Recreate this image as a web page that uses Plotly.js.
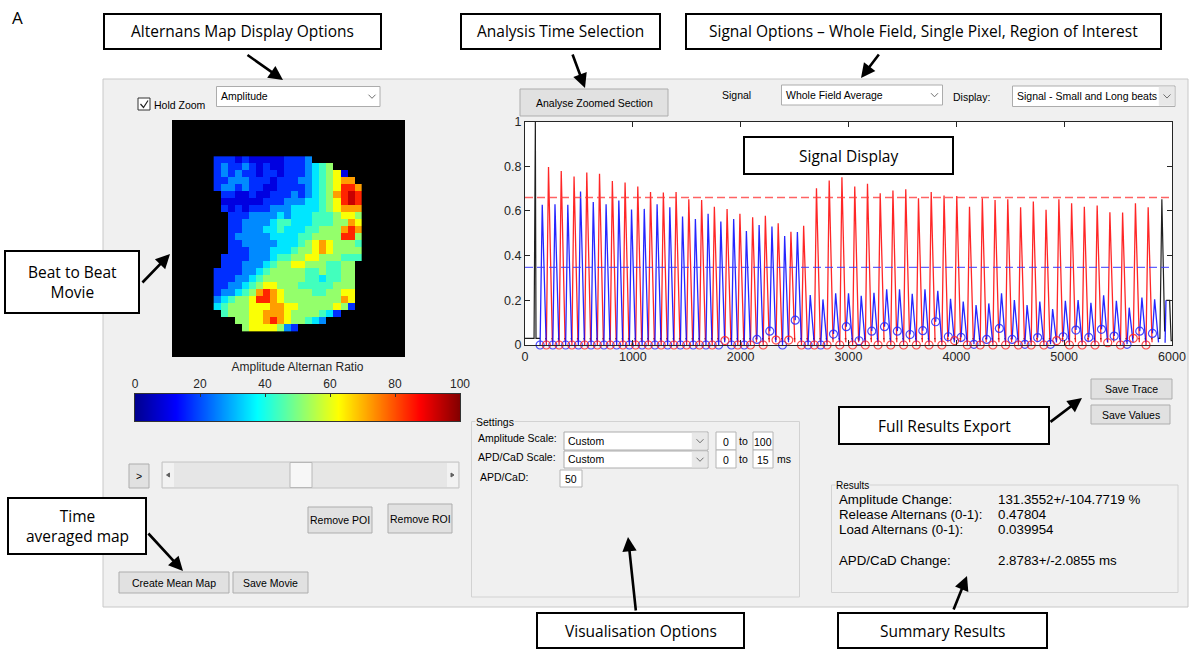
<!DOCTYPE html>
<html><head><meta charset="utf-8">
<script src="https://cdn.plot.ly/plotly-3.0.1.min.js"></script>
<style>html,body{margin:0;padding:0;background:#fff}#chart{width:1192px;height:650px}</style>
</head><body><div id="chart"></div>
<script>
// ---------------- DATA ----------------
var blueTimes = [160,278,397,515,633,752,870,988,1106,1225,1343,1461,1580,1698,1816,1935,2053,2171,2290,2408,2526,2645,2763,2881,3000,3118,3236,3354,3473,3591,3709,3828,3946,4064,4183,4301,4419,4538,4656,4774,4893,5011,5129,5248,5366,5484,5603,5721,5839];
var bluePeaks = [0.627,0.630,0.627,0.687,0.640,0.630,0.646,0.606,0.609,0.630,0.616,0.575,0.564,0.587,0.552,0.564,0.510,0.537,0.530,0.488,0.506,0.224,0.204,0.231,0.231,0.220,0.234,0.249,0.249,0.229,0.249,0.242,0.207,0.194,0.179,0.186,0.231,0.201,0.179,0.194,0.161,0.198,0.201,0.189,0.222,0.198,0.167,0.212,0.204];
var blueFeet = [0,0,0,0,0,0,0,0,0,0,0,0,0,0,0,0,0,0.025,0.062,0,0.111,0,0,0.049,0.082,0.019,0.062,0.082,0.062,0.047,0.064,0.104,0.037,0.034,0.003,0.025,0.074,0.025,0.003,0.033,0.003,0.037,0.067,0.034,0.070,0.040,0.003,0.062,0.052];
var redTimes = [218,336,455,573,691,810,928,1046,1164,1283,1401,1519,1638,1756,1874,1993,2111,2229,2348,2466,2584,2703,2821,2939,3058,3176,3294,3412,3531,3649,3767,3886,4004,4122,4241,4359,4477,4596,4714,4832,4951,5069,5187,5306,5424,5542,5661,5779];
var redPeaks = [0.796,0.779,0.754,0.772,0.766,0.734,0.727,0.709,0.685,0.682,0.685,0.652,0.649,0.619,0.608,0.587,0.572,0.578,0.545,0.507,0.533,0.701,0.736,0.751,0.709,0.721,0.679,0.691,0.697,0.657,0.684,0.669,0.667,0.619,0.657,0.649,0.652,0.616,0.642,0.605,0.652,0.634,0.619,0.624,0.594,0.593,0.634,0.616];
var redFeet = [0,0,0,0,0,0,0,0,0,0,0,0,0,0,0.02,0,0,0,0.022,0.022,0,0,0,0,0,0,0,0,0,0,0,0,0.02,0,0,0,0,0,0,0,0.02,0,0,0,0.01,0,0.03,0];
var startTimes = [0,84,96,102,140];
var startValues = [0.03,0.03,1.0,0.03,0.03];
var endTimes = [5870,5888,5906,5932];
var endValues = [0.03,0.03,0.652,0.06];
var tailBlueTimes = [5936,5944];
var tailBlueValues = [0.01,0.2];
var tailBlackTimes = [5946,5978,5992,6000];
var tailBlackValues = [0.2,0.2,0.02,0.02];
var longBeatLevel = 0.66;
var smallBeatLevel = 0.347;
var xRange = [0,6000];
var xTicks = [0,1000,2000,3000,4000,5000,6000];
var yTicks = [0,0.2,0.4,0.6,0.8,1];
var colorbarTicks = [0,20,40,60,80,100];
var colorbarRange = [0,100];
// alternans map, one digit per pixel (level index into mapLevels), '.' = outside tissue
var mapLevels = [9,17,26,35,44,52,62,72,84,93];
var mapRows = [
"11101000001112.......",
"12112101001112345....",
"1212110110111234560..",
"11222111011122345677.",
"122121100111123456887",
".11001001112123457898",
".00000011122233456898",
".10101112223333456777",
"..1112222323334445665",
"..1122223443334445576",
"..1122233433344555787",
"..1222223333445555885",
"..1122222333456765554",
"..1112223334556765555",
".11112223445566555444",
".1112223455665554455.",
"11112234555554454455.",
"11122345555554434455.",
"11223456655544444555.",
"12234578765555445566.",
"23455688765555555576.",
"34555666776655555651.",
".45556677765555431...",
"...5566787655432.....",
"....56666521........."
];
var resultLabels = ["Amplitude Change:","Release Alternans (0-1):","Load Alternans (0-1):","APD/CaD Change:"];
var resultValues = ["131.3552+/-104.7719 %","0.47804","0.039954","2.8783+/-2.0855 ms"];

// ---------------- BUILD ----------------
var RISE = 20, FALL = 36, BASE = 0.028;
function X(p){return p/1192;}
function Y(p){return 1-p/650;}

function beatLine(times, peaks, feet){
  var xs=[], ys=[];
  for (var i=0;i<times.length;i++){
    xs.push(times[i]-RISE, times[i], times[i]+FALL, null);
    ys.push(feet[i], peaks[i], 0.012, null);
  }
  return {x:xs,y:ys};
}
var blueL = beatLine(blueTimes, bluePeaks, blueFeet);
var redL = beatLine(redTimes, redPeaks, redFeet);

var allT = blueTimes.concat(redTimes).sort(function(a,b){return a-b;});
var bx = startTimes.slice(), by = startValues.slice();
bx.push(null); by.push(null);
for (var i=0;i<allT.length-1;i++){
  bx.push(allT[i]+26, allT[i+1]-RISE, null);
  by.push(BASE, BASE, null);
}
bx = bx.concat(endTimes); by = by.concat(endValues);
bx.push(null); by.push(null);
bx = bx.concat(tailBlackTimes); by = by.concat(tailBlackValues);

var z = mapRows.map(function(r){
  return r.split('').map(function(ch){ return ch==='.' ? null : mapLevels[+ch]; });
});

var jet = [[0,'#00008f'],[0.125,'#0000ff'],[0.375,'#00ffff'],[0.625,'#ffff00'],[0.875,'#ff0000'],[1,'#800000']];

var traces = [
  {type:'scatter',mode:'lines',x:bx,y:by,line:{color:'#202020',width:1.2},xaxis:'x',yaxis:'y',hoverinfo:'skip'},
  {type:'scatter',mode:'lines',x:redL.x,y:redL.y,line:{color:'rgba(255,0,0,0.85)',width:1.3},xaxis:'x',yaxis:'y',hoverinfo:'skip'},
  {type:'scatter',mode:'lines',x:blueL.x,y:blueL.y,line:{color:'rgba(0,0,255,0.85)',width:1.3},xaxis:'x',yaxis:'y',hoverinfo:'skip'},
  {type:'scatter',mode:'lines',x:tailBlueTimes,y:tailBlueValues,line:{color:'rgba(0,0,255,0.85)',width:1.3},xaxis:'x',yaxis:'y'},
  {type:'scatter',mode:'lines',x:xRange,y:[longBeatLevel,longBeatLevel],line:{color:'rgba(255,60,60,0.8)',width:1.3,dash:'8px,4px'},xaxis:'x',yaxis:'y'},
  {type:'scatter',mode:'lines',x:xRange,y:[smallBeatLevel,smallBeatLevel],line:{color:'rgba(60,60,255,0.8)',width:1.3,dash:'8px,4px'},xaxis:'x',yaxis:'y'},
  {type:'scatter',mode:'markers',x:blueTimes.map(function(t){return t-RISE;}),y:blueFeet,cliponaxis:false,
    marker:{symbol:'circle-open',size:8,color:'rgba(40,40,255,0.85)',line:{width:1.2}},xaxis:'x',yaxis:'y'},
  {type:'scatter',mode:'markers',x:redTimes.map(function(t){return t-RISE;}),y:redFeet,cliponaxis:false,
    marker:{symbol:'circle-open',size:8,color:'rgba(255,40,40,0.85)',line:{width:1.2}},xaxis:'x',yaxis:'y'},
  {type:'heatmap',z:z,colorscale:jet,zmin:colorbarRange[0],zmax:colorbarRange[1],showscale:false,xaxis:'x2',yaxis:'y2',hoverinfo:'skip'},
  {type:'heatmap',z:[colorbarRange,colorbarRange],x:colorbarRange,y:[0,1],zsmooth:'best',colorscale:jet,zmin:colorbarRange[0],zmax:colorbarRange[1],showscale:false,xaxis:'x3',yaxis:'y3',hoverinfo:'skip'}
];

var shapes = [], ann = [];
var FF = 'Liberation Sans, Arial, sans-serif';
function rect(x0,y0,x1,y1,fill,line,w,layer){
  shapes.push({type:'rect',xref:'paper',yref:'paper',x0:X(x0),x1:X(x1),y0:Y(y1),y1:Y(y0),
    fillcolor:fill,line:{color:line,width:(w===undefined?1:w)},layer:layer||'below'});
}
function path(pts,color,w,fill,layer){
  var d = pts.map(function(p,i){return (i?'L':'M')+X(p[0])+','+Y(p[1]);}).join(' ');
  if (fill) d += ' Z';
  shapes.push({type:'path',xref:'paper',yref:'paper',path:d,line:{color:color,width:w},fillcolor:fill||'rgba(0,0,0,0)',layer:layer||'below'});
}
function txt(x,y,t,size,anchor,opts){
  opts = opts||{};
  ann.push({xref:'paper',yref:'paper',x:X(x),y:Y(y),text:t,showarrow:false,xanchor:anchor||'left',yanchor:'middle',
    font:{family:opts.family||FF,size:size,color:opts.color||'#000'},bgcolor:opts.bg||'rgba(0,0,0,0)',borderpad:0});
}
function arrow(x0,y0,x1,y1){
  ann.push({xref:'paper',yref:'paper',x:X(x1),y:Y(y1),ax:x0-x1,ay:y0-y1,axref:'pixel',ayref:'pixel',text:'',
    showarrow:true,arrowhead:2,arrowsize:1.1,arrowwidth:2.6,arrowcolor:'#000',standoff:0,startstandoff:0});
}
function callout(x0,y0,x1,y1,t){
  rect(x0,y0,x1,y1,'#ffffff','#000000',2,'above');
  txt((x0+x1)/2,(y0+y1)/2,t,15.5,'center',{family:'Open Sans, Liberation Sans, sans-serif'});
}
function button(x0,y0,x1,y1,t){
  rect(x0,y0,x1,y1,'#e1e1e1','#adadad',1);
  txt((x0+x1)/2,(y0+y1)/2,t,10.5,'center');
}
function dropdown(x0,y0,x1,y1,t,grayArrow){
  rect(x0,y0,x1,y1,'#ffffff','#acacac',1);
  if (grayArrow) rect(x1-16,y0+1,x1-1,y1-1,'#e8e8e8','#e8e8e8',0.5);
  var cx = x1-8, cy=(y0+y1)/2;
  path([[cx-3.5,cy-1.8],[cx,cy+1.8],[cx+3.5,cy-1.8]],'#707070',1);
  txt(x0+3,cy,t,10.5,'left');
}
function editbox(x0,y0,x1,y1,t){
  rect(x0,y0,x1,y1,'#ffffff','#b4b4b4',1);
  txt((x0+x1)/2,(y0+y1)/2+1,t,10.5,'center');
}

rect(103,79,1188,607,'#f0f0f0','#c8c8c8',1);
rect(525,121.5,1172,345,'#ffffff','#ffffff',0);
rect(172,120,405,357,'#000000','#000000',0);

rect(138,98,150,110,'#ffffff','#333333',1);
path([[140.5,104],[143.5,107.5],[148,100.5]],'#222',1.2);
txt(153,105,'Hold Zoom',10.5,'left');
dropdown(216.5,86.5,380,106.5,'Amplitude',false);

button(520,89,668,116,'Analyse Zoomed Section');
txt(736,95,'Signal',10.5,'center');
dropdown(781.5,85,942.5,105,'Whole Field Average',false);
txt(952,97,'Display:',10.5,'left');
dropdown(1012.5,86,1175,106.5,'Signal - Small and Long beats',true);

button(129,464,149,488,'>');
rect(162,462,459,488,'#e6e6e6','#c4c4c4',1);
rect(163,463,174,487,'#f2f2f2','#f2f2f2',0);
rect(447,463,458,487,'#f2f2f2','#f2f2f2',0);
path([[166.5,475],[169.5,473],[169.5,477]],'#606060',1,'#606060');
path([[454,475],[451,473],[451,477]],'#606060',1,'#606060');
rect(290,462.5,312,487.5,'#f7f7f7','#b8b8b8',1);

button(308,507,372,533,'Remove POI');
button(388,504,452,533,'Remove ROI');
button(119,572,229,593,'Create Mean Map');
button(233,572,308,593,'Save Movie');

rect(471.5,421.5,799.5,597,'rgba(0,0,0,0)','#d2d2d2',1);
txt(475,421.5,'Settings',10.5,'left',{bg:'#f0f0f0'});
txt(477,438,'Amplitude Scale:',10.5,'left');
dropdown(564,432,708,450,'Custom',true);
editbox(716,432,736,450,'0');
txt(743.5,441,'to',10.5,'center');
editbox(753,432,773,450,'100');
txt(477,457,'APD/CaD Scale:',10.5,'left');
dropdown(564,451,708,468,'Custom',true);
editbox(716,450,736,468,'0');
txt(743.5,459.5,'to',10.5,'center');
editbox(753,450,773,468,'15');
txt(784,459.5,'ms',10.5,'center');
txt(479,477,'APD/CaD:',10.5,'left');
editbox(560,470,582,487,'50');

button(1091,379,1172,399,'Save Trace');
button(1091,405,1170,424,'Save Values');

rect(831.5,485,1178,592.5,'rgba(0,0,0,0)','#d2d2d2',1);
txt(835,485,'Results',10,'left',{bg:'#f0f0f0'});
var resY = [499,514,529,560];
for (var r=0;r<resultLabels.length;r++){
  txt(838,resY[r],resultLabels[r],13.3,'left');
  txt(997,resY[r],resultValues[r],13.3,'left');
}

txt(11,18,'A',17,'left',{family:'Open Sans, Liberation Sans, sans-serif'});
callout(104,14,381,49,'Alternans Map Display Options');
callout(461,14,660,49,'Analysis Time Selection');
callout(686,14,1161,49,'Signal Options \u2013 Whole Field, Single Pixel, Region of Interest');
callout(5,251,139,313,'Beat to Beat<br>Movie');
callout(744,137,953,174,'Signal Display');
callout(8,498,146,554,'Time<br>averaged map');
callout(537,613,744,648,'Visualisation Options');
callout(839,407,1049,444,'Full Results Export');
callout(838,613,1047,648,'Summary Results');

arrow(246,54,283,80);
arrow(572,53,585,88);
arrow(880,53,861,78);
arrow(141,284,170,254);
arrow(147,532,183,571);
arrow(636,612,628,537);
arrow(953,611,967,576);
arrow(1049,423,1082,398);

var axFont = {family:FF,size:12.5,color:'#262626'};
var layout = {
  width:1192,height:650,margin:{l:0,r:0,t:0,b:0},
  paper_bgcolor:'#ffffff',plot_bgcolor:'rgba(0,0,0,0)',showlegend:false,hovermode:false,
  font:{family:FF,size:11,color:'#000'},
  xaxis:{domain:[X(525),X(1172)],range:xRange,anchor:'y',tickvals:xTicks,ticks:'inside',ticklen:5,tickcolor:'#262626',
    showline:true,linecolor:'#262626',linewidth:1,mirror:'ticks',showgrid:false,zeroline:false,tickfont:axFont},
  yaxis:{domain:[Y(345),Y(121.5)],range:[0,1],anchor:'x',tickvals:yTicks,ticks:'inside',ticklen:5,tickcolor:'#262626',
    showline:true,linecolor:'#262626',linewidth:1,mirror:'ticks',showgrid:false,zeroline:false,tickfont:axFont},
  xaxis2:{domain:[X(172),X(405)],range:[-6.4,26.6],anchor:'y2',visible:false},
  yaxis2:{domain:[Y(357),Y(120)],range:[28.2,-5.7],anchor:'x2',visible:false},
  xaxis3:{domain:[X(135),X(460)],range:colorbarRange,anchor:'y3',side:'top',tickvals:colorbarTicks,ticks:'inside',ticklen:3,
    tickcolor:'#333',showline:true,linecolor:'#333',mirror:true,showgrid:false,zeroline:false,
    tickfont:{family:FF,size:12,color:'#262626'},title:{text:'Amplitude Alternan Ratio',font:{family:FF,size:12,color:'#262626'},standoff:3}},
  yaxis3:{domain:[Y(421),Y(394)],range:[0,1],anchor:'x3',showline:true,linecolor:'#333',mirror:true,showticklabels:false,ticks:'',showgrid:false,zeroline:false},
  shapes:shapes,annotations:ann
};
Plotly.newPlot('chart',traces,layout,{staticPlot:true,displayModeBar:false});
</script></body></html>
